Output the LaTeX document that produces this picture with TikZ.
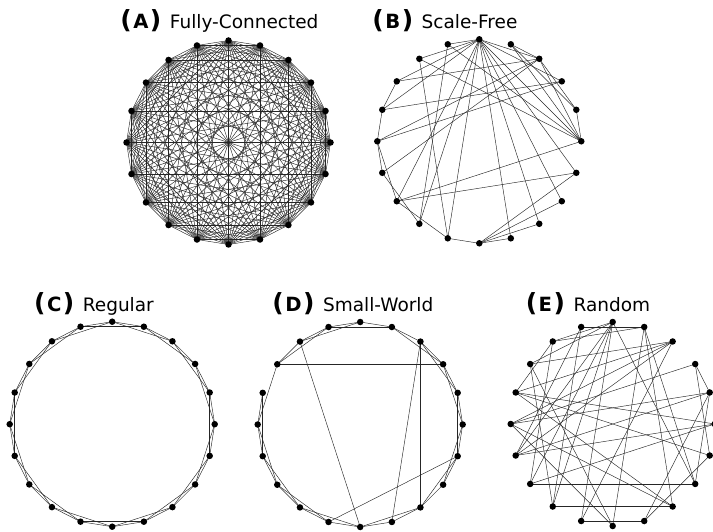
\documentclass[tikz,border=0pt]{standalone}
\usepackage{fontspec}
\setmainfont{DejaVu Sans}
\pgfdeclarelayer{bg}
\pgfsetlayers{bg,main}
\newcommand\pnltitle[2]{{\fontsize{25}{25}\selectfont\bfseries(}\kern1.5pt{\fontsize{19.6}{20}\selectfont\bfseries #1}\kern1.5pt{\fontsize{25}{25}\selectfont\bfseries)}\hspace{8.5pt}{\fontsize{18.5}{20}\selectfont #2}}
\begin{document}
\begin{tikzpicture}[x=1pt,y=-1pt,
  dot/.style={circle,fill=black,inner sep=0pt,minimum size=6.5pt},
  edge/.style={line width=0.45pt,draw=black!85},
  ttl/.style={anchor=base west,inner sep=0pt}]
\useasboundingbox (0,0) rectangle (713,532);
\clip (0,0) rectangle (713,532);
% titles
\node[ttl] (tA) at (120.2,28.4) {\pnltitle{A}{Fully-Connected}};
\node[ttl] (tB) at (372.2,28.4) {\pnltitle{B}{Scale-Free}};
\node[ttl] (tC) at (33.9,311.3) {\pnltitle{C}{Regular}};
\node[ttl] (tD) at (272.2,311.3) {\pnltitle{D}{Small-World}};
\node[ttl] (tE) at (525.6,311.3) {\pnltitle{E}{Random}};
% nodes
\foreach \i in {0,...,19}{
  \node[dot] (a\i) at ({228.5+102*sin(18*\i)},{142.5-102*cos(18*\i)}) {};
  \node[dot] (b\i) at ({479.3+102*sin(18*\i)},{141.3-102*cos(18*\i)}) {};
  \node[dot] (c\i) at ({112.2+102.5*sin(18*\i)},{424.2-102.5*cos(18*\i)}) {};
  \node[dot] (d\i) at ({360.2+102.5*sin(18*\i)},{424.5-102.5*cos(18*\i)}) {};
  \node[dot] (e\i) at ({612.7+102*sin(18*\i)},{424-102*cos(18*\i)}) {};
}
\begin{pgfonlayer}{bg}
% (A) complete graph
\foreach \i in {0,...,18}{
  \pgfmathtruncatemacro\s{\i+1}
  \foreach \j in {\s,...,19}
    \draw[edge] (a\i.center) -- (a\j.center);
}
% (B) scale-free
\foreach \u/\v in {0/19,0/18,0/17,0/16,0/2,0/3,0/5,0/6,0/7,0/8,0/9,0/11,0/12,0/13,
  1/2,1/5,1/4,2/5,2/17,2/15,2/14,2/4,3/15,3/16,5/18,5/19,5/13,5/4,6/13,6/10,
  7/10,8/10,9/10,10/11,11/13,11/18,12/19,13/15,14/15,15/16,16/17,14/12}
  \draw[edge] (b\u.center) -- (b\v.center);
% (C) regular ring lattice
\foreach \i in {0,...,19}{
  \pgfmathtruncatemacro\p{mod(\i+1,20)}
  \pgfmathtruncatemacro\q{mod(\i+2,20)}
  \draw[edge] (c\i.center) -- (c\p.center);
  \draw[edge] (c\i.center) -- (c\q.center);
}
% (D) small world
\foreach \u/\v in {0/1,1/2,2/3,3/4,4/5,5/6,6/7,7/8,8/9,9/10,10/11,11/12,12/13,13/14,14/15,15/16,17/18,18/19,19/0,
  1/3,2/4,3/5,4/6,5/7,6/8,8/10,10/12,11/13,12/14,13/15,14/16,15/17,17/19,18/0,19/1,
  17/3,18/10,2/8,2/9,6/11}
  \draw[edge] (d\u.center) -- (d\v.center);
% (E) random
\foreach \u/\v in {0/18,0/17,0/14,0/13,0/7,19/1,19/12,19/14,1/10,1/8,1/18,2/16,2/17,2/14,2/15,
  3/4,3/15,4/7,4/15,4/14,4/9,5/16,5/13,6/16,6/9,6/3,7/13,7/1,8/12,8/15,8/16,
  9/11,10/15,10/17,11/0,11/2,12/17,12/0,13/18,14/5,16/18}
  \draw[edge] (e\u.center) -- (e\v.center);
\end{pgfonlayer}
\end{tikzpicture}
\end{document}
